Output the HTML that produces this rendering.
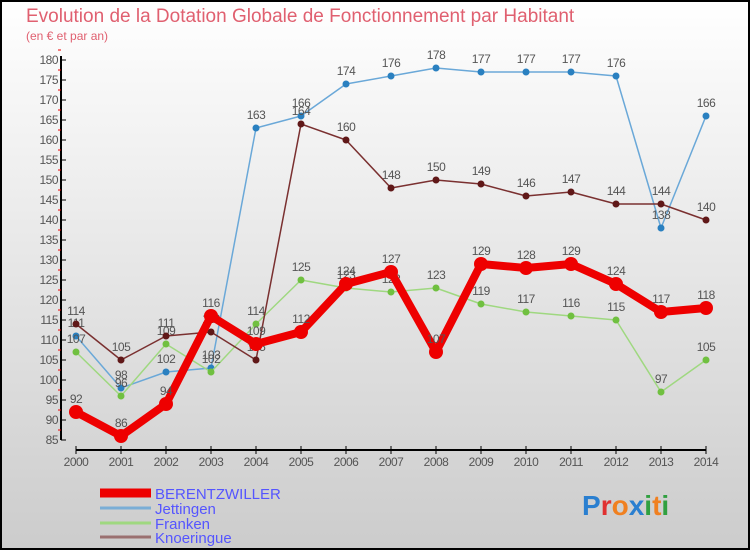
<!DOCTYPE html>
<html><head><meta charset="utf-8"><style>
body{margin:0;width:750px;height:550px;overflow:hidden}
svg{display:block;font-family:"Liberation Sans","DejaVu Sans",sans-serif}
</style></head><body>
<svg id="c" width="750" height="550">
<defs><linearGradient id="bg" x1="0" y1="0" x2="0" y2="1"><stop offset="0" stop-color="#ffffff"/><stop offset="1" stop-color="#cccccc"/></linearGradient></defs>
<rect x="1" y="1" width="748" height="548" fill="url(#bg)" stroke="#000" stroke-width="2"/>
<text x="26" y="22" font-size="19" fill="#e06070">Evolution de la Dotation Globale de Fonctionnement par Habitant</text>
<text x="26" y="40" font-size="12" fill="#e06070">(en € et par an)</text>
<g id="axes"></g><g id="series"></g>
<g>
<line x1="100" y1="493" x2="151" y2="493" stroke="#e00" stroke-width="9"/>
<text x="155" y="499" font-size="15" fill="#5555ff">BERENTZWILLER</text>
<line x1="100" y1="508" x2="151" y2="508" stroke="#7aaed6" stroke-width="3"/>
<text x="155" y="514" font-size="15" fill="#5555ff">Jettingen</text>
<line x1="100" y1="523" x2="151" y2="523" stroke="#9fd880" stroke-width="3"/>
<text x="155" y="529" font-size="15" fill="#5555ff">Franken</text>
<line x1="100" y1="537" x2="151" y2="537" stroke="#9a7070" stroke-width="3"/>
<text x="155" y="543" font-size="15" fill="#5555ff">Knoeringue</text>
</g>
<text x="582" y="515" font-size="28" font-weight="bold"><tspan fill="#2a7fd0">P</tspan><tspan fill="#e03030">r</tspan><tspan fill="#f08020">o</tspan><tspan fill="#2a7fd0">x</tspan><tspan fill="#30a040">i</tspan><tspan fill="#f08020">t</tspan><tspan fill="#30a040">i</tspan></text>
</svg>
<script>
const years=[2000,2001,2002,2003,2004,2005,2006,2007,2008,2009,2010,2011,2012,2013,2014];
const berentzwiller=[92,86,94,116,109,112,124,127,107,129,128,129,124,117,118];
const jettingen=[111,98,102,103,163,166,174,176,178,177,177,177,176,138,166];
const franken=[107,96,109,102,114,125,123,122,123,119,117,116,115,97,105];
const knoeringue=[114,105,111,112,105,164,160,148,150,149,146,147,144,144,140];
const yTicks=[85,90,95,100,105,110,115,120,125,130,135,140,145,150,155,160,165,170,175,180];
const NS='http://www.w3.org/2000/svg';
const x=i=>76+i*45;
const y=v=>60+(180-v)*(380/95);
function mk(t,a,p){const e=document.createElementNS(NS,t);for(const k in a)e.setAttribute(k,a[k]);p.appendChild(e);return e;}
const ax=document.getElementById('axes');
let e=mk('line',{x1:61,y1:56,x2:61,y2:440,stroke:'#000','stroke-width':2},ax);


e=mk('line',{x1:76,y1:450,x2:706,y2:450,stroke:'#000','stroke-width':2},ax);


yTicks.forEach(v=>{
  mk('line',{x1:61,y1:y(v),x2:66,y2:y(v),stroke:'#000'},ax);
  mk('line',{x1:58,y1:y(v+2.5),x2:61,y2:y(v+2.5),stroke:'#e00'},ax);
  const t=mk('text',{x:58,y:y(v)+4,'font-size':12,fill:'#555','text-anchor':'end','letter-spacing':'-0.5'},ax);
  t.textContent=v;
  
  
});
years.forEach((yr,i)=>{
  mk('line',{x1:x(i),y1:446,x2:x(i),y2:454,stroke:'#000'},ax);
  const t=mk('text',{x:x(i),y:466,'font-size':12,fill:'#555','text-anchor':'middle','letter-spacing':'-0.5'},ax);
  t.textContent=yr;
  
  
});
const sg=document.getElementById('series');
function draw(data,name,color,dot,w,r){
  const g=mk('g',{},sg);
  
  
  const pl=mk('polyline',{points:data.map((v,i)=>x(i)+','+y(v)).join(' '),fill:'none',stroke:color,'stroke-width':w,'stroke-linejoin':'round'},g);
  
  
  data.forEach((v,i)=>{
    const c=mk('circle',{cx:x(i),cy:y(v),r:r,fill:dot},g);
    
    
    const t=mk('text',{x:x(i),y:y(v)-9,'font-size':12,fill:'#555','text-anchor':'middle','letter-spacing':'-0.5'},g);
    t.textContent=v;
    
    
  });
}
draw(jettingen,'jettingen','#6aa8d8','#2a80c0',1.5,3.5);
draw(franken,'franken','#9fd880','#70c040',1.5,3.5);
draw(knoeringue,'knoeringue','#7a3030','#601818',1.5,3.5);
draw(berentzwiller,'berentzwiller','#ee0000','#ee0000',8,7);
</script>
</body></html>
